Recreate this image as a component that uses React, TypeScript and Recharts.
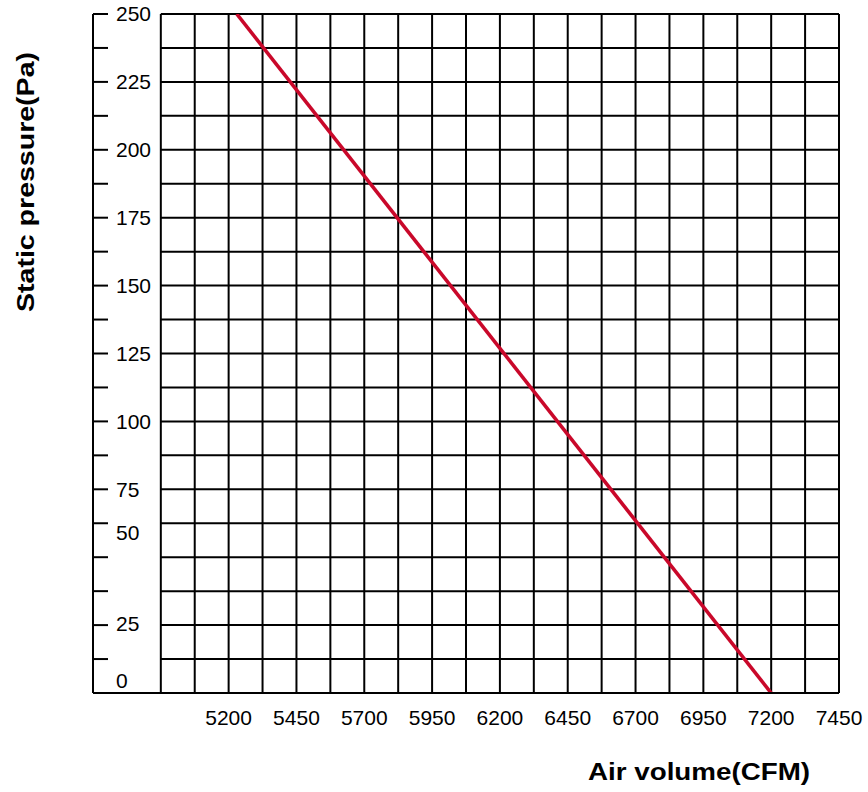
import { CartesianGrid, Line, LineChart, ReferenceLine, XAxis, YAxis } from "recharts";

document.body.style.margin = "0";

// fan curve: air volume (CFM) vs static pressure (Pa)
const airVolume = [5230, 7200];
const staticPressure = [250, 0];

// grid positions (every 125 CFM / 12.5 Pa)
const xGrid = [
  4950, 5075, 5200, 5325, 5450, 5575, 5700, 5825, 5950, 6075, 6200, 6325, 6450, 6575, 6700, 6825,
  6950, 7075, 7200, 7325, 7450,
];
const yGrid = [
  0, 12.5, 25, 37.5, 50, 62.5, 75, 87.5, 100, 112.5, 125, 137.5, 150, 162.5, 175, 187.5, 200, 212.5,
  225, 237.5, 250,
];

// tick labels
const xTickLabels = [5200, 5450, 5700, 5950, 6200, 6450, 6700, 6950, 7200, 7450];
const yTickLabels = ["250", "225", "200", "175", "150", "125", "100", "75", "50", "25", "0"];
const yTickLabelAt = [250, 225, 200, 175, 150, 125, 100, 75, 62.5, 25, 0];

const data = airVolume.map((cfm, i) => ({ cfm, pa: staticPressure[i] }));

const FONT = "'Liberation Sans', Arial, Helvetica, sans-serif";

// the low labels sit a little off their tick marks in the original
const yNudge: Record<number, number> = { 62.5: 9, 25: -2, 0: -12 };

const YTick = ({ x, y, payload }: any) => {
  const idx = yTickLabelAt.indexOf(payload.value);
  if (idx < 0) return null;
  return (
    <text
      x={x}
      y={y + (yNudge[payload.value] ?? 0)}
      dy="0.355em"
      textAnchor="start"
      fontSize={21}
      fontFamily={FONT}
      fill="#000"
    >
      {yTickLabels[idx]}
    </text>
  );
};

const XTick = ({ x, y, payload }: any) => {
  if (!xTickLabels.includes(payload.value)) return null;
  return (
    <text x={x} y={y} dy="0.71em" textAnchor="middle" fontSize={21} fontFamily={FONT} fill="#000">
      {payload.value}
    </text>
  );
};

const App = () => {
  return (
    <div style={{ position: "relative", width: 868, height: 792, background: "#fff" }}>
      <LineChart
        width={868}
        height={792}
        data={data}
        margin={{ top: 14, right: 29, left: 93, bottom: 69 }}
      >
        <CartesianGrid horizontal={false} stroke="#000" strokeWidth={2} />
        {yGrid.map((v) => (
          <ReferenceLine
            key={v}
            segment={[
              { x: xGrid[0], y: v },
              { x: xGrid[xGrid.length - 1], y: v },
            ]}
            stroke="#000"
            strokeWidth={2}
            ifOverflow="visible"
          />
        ))}
        <XAxis
          type="number"
          dataKey="cfm"
          domain={[4700, 7450]}
          ticks={xGrid}
          interval={0}
          tickLine={false}
          tickSize={0}
          tickMargin={17}
          axisLine={{ stroke: "#000", strokeWidth: 2 }}
          tick={<XTick />}
          allowDataOverflow
        />
        <YAxis
          type="number"
          domain={[0, 250]}
          ticks={yGrid}
          interval={0}
          mirror
          tickSize={15}
          tickMargin={8}
          axisLine={{ stroke: "#000", strokeWidth: 2 }}
          tickLine={{ stroke: "#000", strokeWidth: 2 }}
          tick={<YTick />}
          allowDataOverflow
        />
        <Line
          type="linear"
          dataKey="pa"
          stroke="#c9082a"
          strokeWidth={3.6}
          dot={false}
          isAnimationActive={false}
        />
      </LineChart>
      <svg
        width={868}
        height={792}
        style={{ position: "absolute", left: 0, top: 0, pointerEvents: "none" }}
      >
        <text
          x={699}
          y={780}
          textAnchor="middle"
          fontSize={23}
          fontWeight="bold"
          fontFamily={FONT}
          textLength={222}
          lengthAdjust="spacingAndGlyphs"
          fill="#000"
        >
          Air volume(CFM)
        </text>
        <text
          transform="translate(34,182) rotate(-90)"
          textAnchor="middle"
          fontSize={23}
          fontWeight="bold"
          fontFamily={FONT}
          textLength={260}
          lengthAdjust="spacingAndGlyphs"
          fill="#000"
        >
          Static pressure(Pa)
        </text>
      </svg>
    </div>
  );
};

export default App;
